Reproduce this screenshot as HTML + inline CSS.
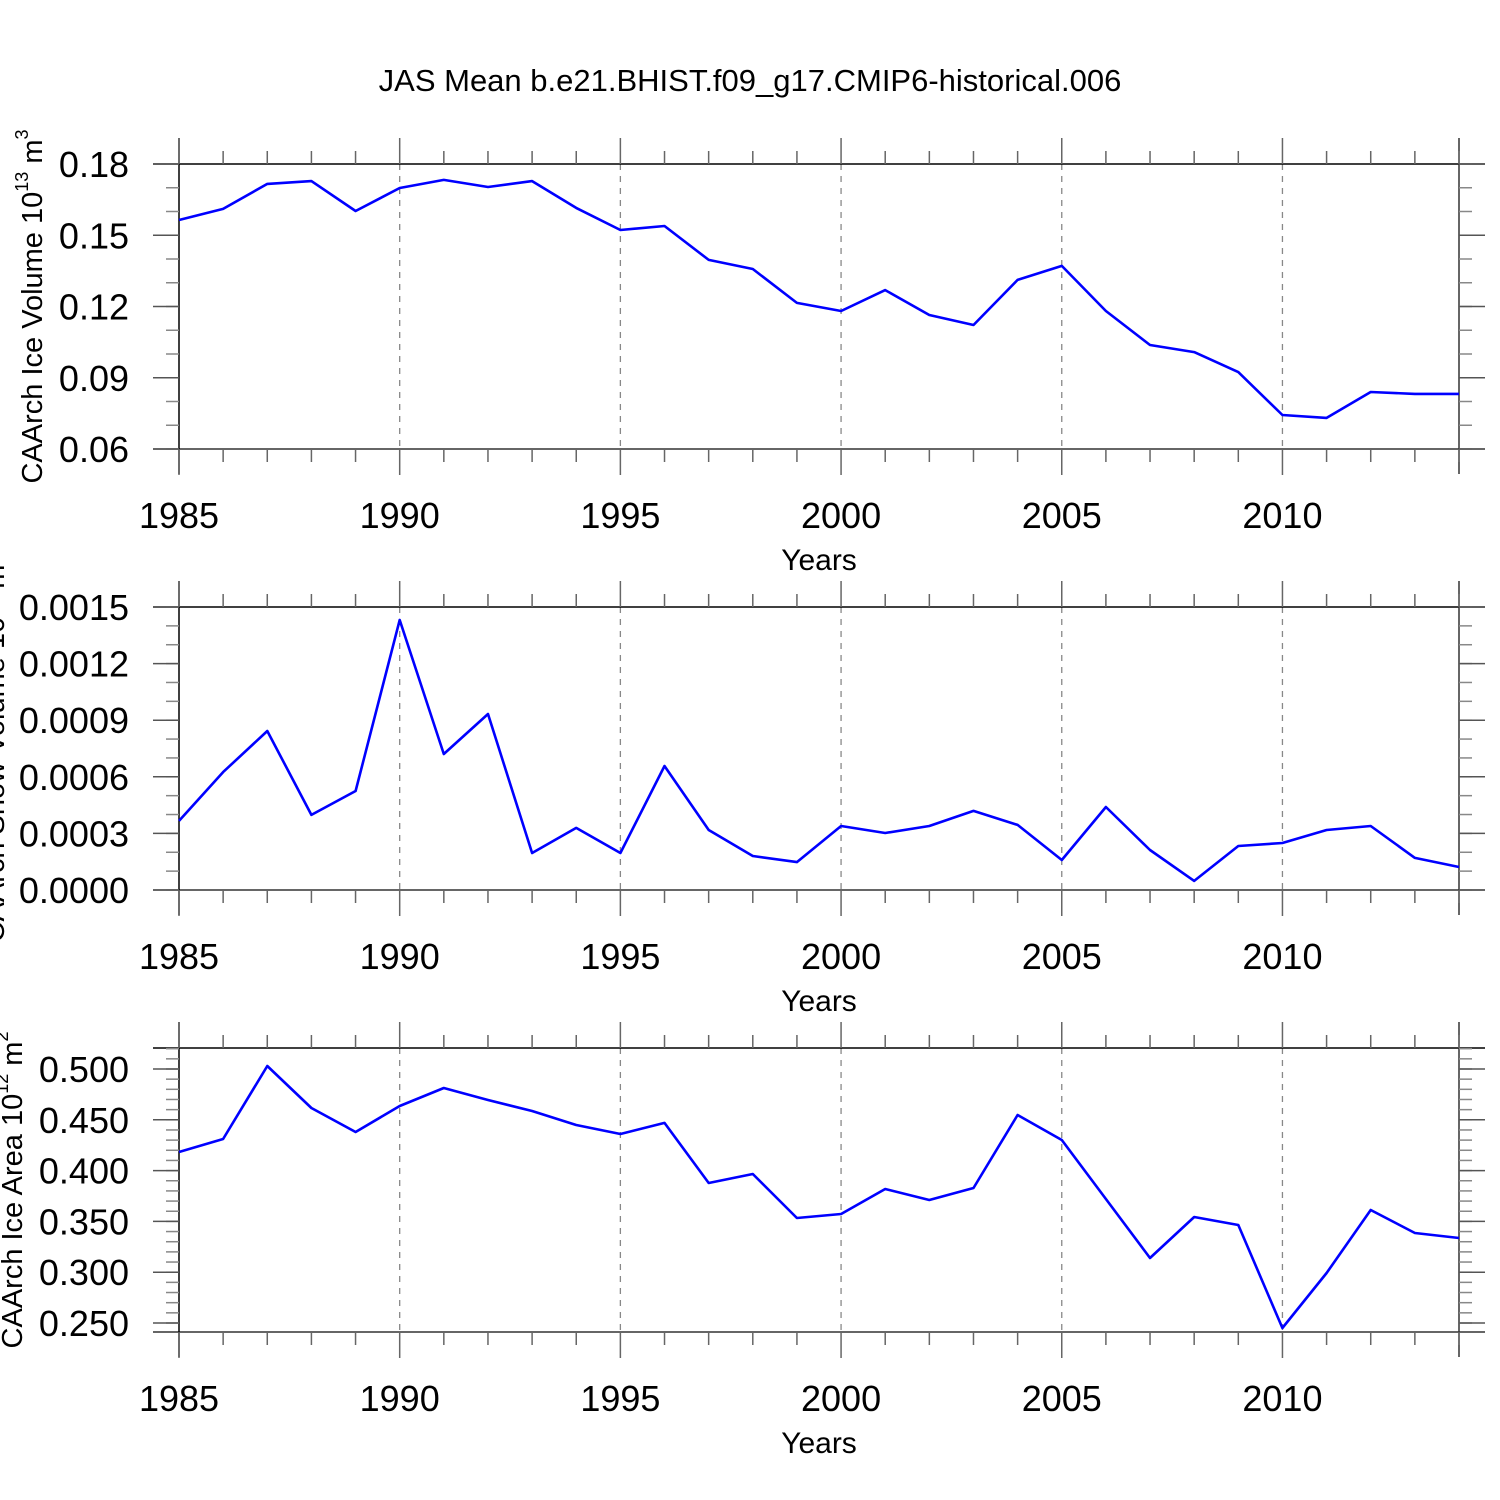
<!DOCTYPE html>
<html><head><meta charset="utf-8"><style>
html,body{margin:0;padding:0;background:#fff;width:1500px;height:1500px;overflow:hidden}
svg{display:block;font-family:"Liberation Sans",Arial,sans-serif}
</style></head><body>
<svg id="chart" width="1500" height="1500" viewBox="0 0 1500 1500" xmlns="http://www.w3.org/2000/svg">
<text x="750" y="91" font-size="31" text-anchor="middle">JAS Mean b.e21.BHIST.f09_g17.CMIP6-historical.006</text>
</svg>
<script>
const years = [1985,1986,1987,1988,1989,1990,1991,1992,1993,1994,1995,1996,1997,1998,1999,2000,2001,2002,2003,2004,2005,2006,2007,2008,2009,2010,2011,2012,2013,2014];
const iceVolume = [0.1564,0.1611,0.1716,0.1728,0.1602,0.1699,0.1733,0.1703,0.1728,0.1615,0.1522,0.1539,0.1396,0.1358,0.1215,0.1181,0.1269,0.1164,0.1122,0.1312,0.1371,0.1181,0.1038,0.1008,0.0924,0.0743,0.0731,0.0840,0.0832,0.0832];
const snowVolume = [0.000366,0.000625,0.000843,0.000398,0.000525,0.001431,0.000721,0.000933,0.000196,0.000329,0.000196,0.000657,0.000318,0.000180,0.000148,0.000339,0.000302,0.000339,0.000419,0.000345,0.000159,0.000440,0.000212,0.000048,0.000233,0.000249,0.000318,0.000339,0.000170,0.000122];
const iceArea = [0.4183,0.4311,0.5030,0.4616,0.4380,0.4636,0.4813,0.4695,0.4587,0.4449,0.4360,0.4469,0.3878,0.3967,0.3533,0.3573,0.3819,0.3711,0.3829,0.4547,0.4301,0.3720,0.3140,0.3543,0.3465,0.2451,0.2992,0.3612,0.3386,0.3337];
const yearTicks = [1985,1990,1995,2000,2005,2010];
const volTicks = [0.06,0.09,0.12,0.15,0.18];
const volTickLabels = ["0.06","0.09","0.12","0.15","0.18"];
const snowTicks = [0,0.0003,0.0006,0.0009,0.0012,0.0015];
const snowTickLabels = ["0.0000","0.0003","0.0006","0.0009","0.0012","0.0015"];
const areaTicks = [0.25,0.30,0.35,0.40,0.45,0.50];
const areaTickLabels = ["0.250","0.300","0.350","0.400","0.450","0.500"];

const svg = document.getElementById('chart');
const NS = 'http://www.w3.org/2000/svg';
function mk(tag, attrs, parent){const e=document.createElementNS(NS,tag);for(const k in attrs)e.setAttribute(k,attrs[k]);(parent||svg).appendChild(e);return e;}
const X0=179, X1=1459;
function xs(yr){return X0+(yr-1985)*(X1-X0)/(2014-1985);}

function panel(name,T,B,vmin,vmax,values,ticks,labels,minorStep,ylabelHTML,ylabelX){
  const g=mk('g',{});
  
  
  const ys=v=>B-(v-vmin)*(B-T)/(vmax-vmin);
  for(const yr of yearTicks){ if(yr===1985) continue;
    const l=mk('line',{x1:xs(yr),x2:xs(yr),y1:T,y2:B,stroke:'#888','stroke-width':1.3,'stroke-dasharray':'6,6'},g);
    
    
  }
  mk('line',{x1:153,x2:1485,y1:T,y2:T,stroke:'#000','stroke-width':1.5},g);
  mk('line',{x1:153,x2:1485,y1:B,y2:B,stroke:'#333','stroke-width':1.5},g);
  mk('line',{x1:X0,x2:X0,y1:T-26,y2:B+25,stroke:'#000','stroke-width':1.5},g);
  mk('line',{x1:X1,x2:X1,y1:T-26,y2:B+25,stroke:'#333','stroke-width':1.5},g);
  for(let yr=1985;yr<=2014;yr++){
    const major=yr%5===0, len=major?26:13, x=xs(yr);
    mk('line',{x1:x,x2:x,y1:T-len,y2:T,stroke:'#666','stroke-width':1.5},g);
    mk('line',{x1:x,x2:x,y1:B,y2:B+len,stroke:'#666','stroke-width':1.5},g);
  }
  for(const yr of yearTicks){
    const t=mk('text',{x:xs(yr),y:B+79,'font-size':36,'text-anchor':'middle'},g);
    t.textContent=yr;
    
    
  }
  const xt=mk('text',{x:819,y:B+121,'font-size':30,'text-anchor':'middle'},g);
  xt.textContent='Years';
  
  
  const start=Math.ceil(vmin/minorStep-1e-6);
  for(let i=start;i*minorStep<=vmax+1e-9;i++){
    const y=ys(i*minorStep);
    mk('line',{x1:X0-13,x2:X0,y1:y,y2:y,stroke:'#888','stroke-width':1.5},g);
    mk('line',{x1:X1,x2:X1+13,y1:y,y2:y,stroke:'#888','stroke-width':1.5},g);
  }
  ticks.forEach((v,i)=>{
    const y=ys(v);
    mk('line',{x1:153,x2:X0,y1:y,y2:y,stroke:'#555','stroke-width':1.5},g);
    mk('line',{x1:X1,x2:1485,y1:y,y2:y,stroke:'#555','stroke-width':1.5},g);
    const t=mk('text',{x:129,y:y+13,'font-size':36,'text-anchor':'end'},g);
    t.textContent=labels[i];
    
    
  });
  const yl=mk('text',{x:0,y:0,'font-size':29,'text-anchor':'middle',transform:`translate(${ylabelX},${(T+B)/2}) rotate(-90)`},g);
  yl.innerHTML=ylabelHTML;
  
  
  const pts=values.map((v,i)=>xs(years[i]).toFixed(1)+','+ys(v).toFixed(1)).join(' ');
  const pl=mk('polyline',{points:pts,fill:'none',stroke:'#0000ff','stroke-width':2.6,'stroke-linejoin':'round'},g);
  
  
}
const sup='<tspan font-size="18" dy="-14">';
panel('ice-volume',164,449,0.18-(449-164)/2375,0.18,iceVolume,volTicks,volTickLabels,0.01,
  'CAArch Ice Volume 10'+sup+'13</tspan><tspan dy="14"> m</tspan>'+sup+'3</tspan>',42);
panel('snow-volume',607,890,0,0.0015,snowVolume,snowTicks,snowTickLabels,0.0001,
  'CAArch Snow Volume 10'+sup+'13</tspan><tspan dy="14"> m</tspan>'+sup+'3</tspan>',4);
panel('ice-area',1048,1332,0.25-(1332-1323)/1016,0.5+(1069-1048)/1016,iceArea,areaTicks,areaTickLabels,0.01,
  'CAArch Ice Area 10'+sup+'12</tspan><tspan dy="14"> m</tspan>'+sup+'2</tspan>',22);
</script>
</body></html>
